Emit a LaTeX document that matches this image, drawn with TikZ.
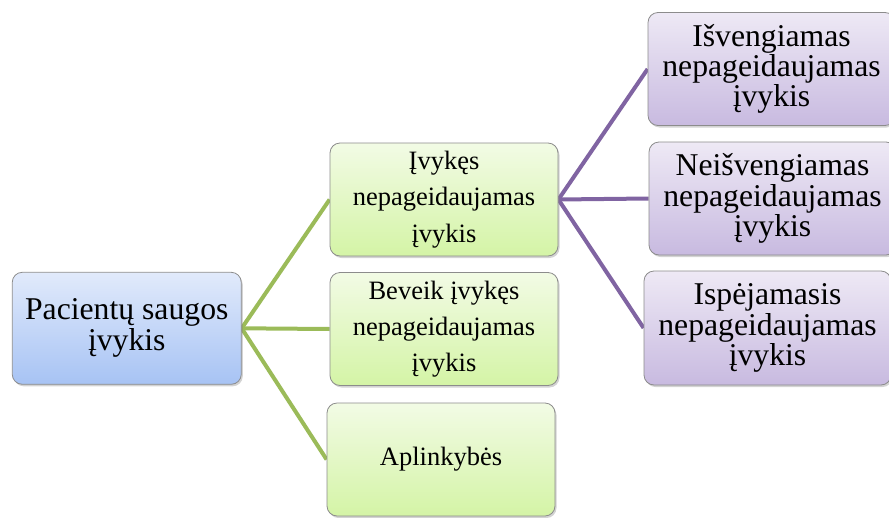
\documentclass[tikz,border=0pt]{standalone}
\usepackage{fontspec}
\setmainfont{Liberation Serif}
\usetikzlibrary{shadows,backgrounds}
\definecolor{rootTop}{HTML}{E1EAFB}
\definecolor{rootBot}{HTML}{A7C3F4}
\definecolor{grnTop}{HTML}{F2FBE5}
\definecolor{grnBot}{HTML}{D4F4A6}
\definecolor{purTop}{HTML}{EEE9F5}
\definecolor{purBot}{HTML}{C8BAE0}
\definecolor{grnLine}{HTML}{9BBB59}
\definecolor{purLine}{HTML}{8064A2}
\definecolor{boxEdge}{HTML}{8C8C8C}
\tikzset{
  boxbase/.style={draw=boxEdge, line width=0.8pt, rounded corners=10pt, align=center,
    inner sep=0pt, drop shadow={shadow xshift=1.5pt, shadow yshift=-2pt, opacity=0.35}},
  rootbox/.style={boxbase, top color=rootTop, bottom color=rootBot,
    minimum width=229pt, minimum height=112pt, font=\fontsize{31.7}{31}\selectfont},
  midbox/.style={boxbase, top color=grnTop, bottom color=grnBot,
    minimum width=228pt, minimum height=113pt, font=\fontsize{26.5}{36.3}\selectfont},
  rightbox/.style={boxbase, top color=purTop, bottom color=purBot,
    minimum width=247pt, minimum height=113pt, font=\fontsize{31.7}{30.3}\selectfont},
  glink/.style={draw=grnLine, line width=4pt},
  plink/.style={draw=purLine, line width=4pt},
}
\begin{document}
\begin{tikzpicture}[x=1pt,y=-1pt]
\useasboundingbox (0,0) rectangle (889,517);
\node[rootbox] (root) at (126.75,328.3) {Pacientų saugos\\įvykis};
\node[midbox] (m1) at (444,199.5) {Įvykęs\\nepageidaujamas\\įvykis};
\node[midbox] (m2) at (444,329) {Beveik įvykęs\\nepageidaujamas\\įvykis};
\node[midbox] (m3) at (441,459.5) {Aplinkybės};
\node[rightbox] (r1) at (771.5,69) {Išvengiamas\\nepageidaujamas\\įvykis};
\node[rightbox] (r2) at (772.5,198.5) {Neišvengiamas\\nepageidaujamas\\įvykis};
\node[rightbox, minimum height=114pt] (r3) at (767.5,328) {Ispėjamasis\\nepageidaujamas\\įvykis};
\begin{scope}[on background layer]
\draw[glink] (root.east) -- (m1.west);
\draw[glink] (root.east) -- (m2.west);
\draw[glink] (root.east) -- (m3.west);
\draw[plink] (m1.east) -- (r1.west);
\draw[plink] (m1.east) -- (r2.west);
\draw[plink] (m1.east) -- (r3.west);
\end{scope}
\end{tikzpicture}
\end{document}
